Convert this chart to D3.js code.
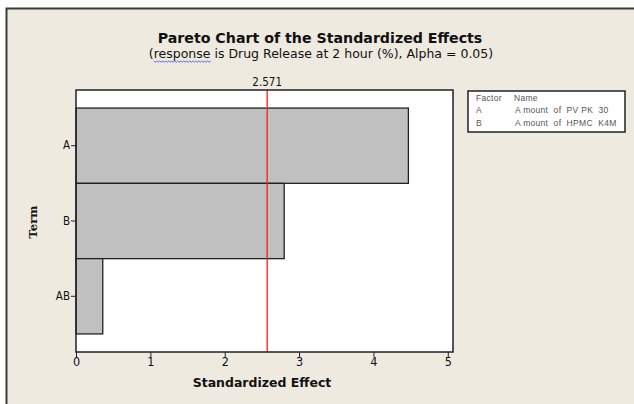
<!DOCTYPE html>
<html>
<head>
<meta charset="utf-8">
<script src="https://cdn.jsdelivr.net/npm/d3@7"></script>
<style>
  body { margin: 0; background: #fff; }
  svg { display: block; }
</style>
</head>
<body>
<div id="chart-area"></div>
<script>
// data
const terms = ['A', 'B', 'AB']
const effects = [4.47, 2.80, 0.36]
const xTicks = [0, 1, 2, 3, 4, 5]
const critical = 2.571
const factorCodes = ['A', 'B']
const factorNames = ['A mount  of  PV PK  30', 'A mount  of  HPMC  K4M']

const W = 634
const H = 404
const margin = { top: 90, left: 76, right: 181, bottom: 52 }
const width = W - margin.left - margin.right
const height = H - margin.top - margin.bottom

const svg = d3.select('#chart-area')
              .append('svg')
              .attr('width', W)
              .attr('height', H)

// beige panel with dark frame on top and left
svg.append('rect')
   .attr('x', 6).attr('y', 8)
   .attr('width', W).attr('height', H)
   .attr('fill', '#eeeae0')
svg.append('path')
   .attr('d', 'M6.5,' + H + 'V8.5H' + W)
   .attr('fill', 'none')
   .attr('stroke', '#3a3a3a')
   .attr('stroke-width', 2)

svg.append('text')
   .attr('x', 320).attr('y', 43)
   .attr('text-anchor', 'middle')
   .attr('font-family', 'DejaVu Sans')
   .attr('font-weight', 'bold')
   .attr('font-size', '14.2px')
   .attr('fill', '#111')
   .text('Pareto Chart of the Standardized Effects')

const sub = svg.append('text')
   .attr('x', 321).attr('y', 58)
   .attr('text-anchor', 'middle')
   .attr('font-family', 'DejaVu Sans')
   .attr('font-size', '12.5px')
   .attr('fill', '#111')
   .text('(response is Drug Release at 2 hour (%), Alpha = 0.05)')

// spell-check squiggle under "response"
const c0 = sub.node().getExtentOfChar(1)
const c1 = sub.node().getExtentOfChar(8)
const sq = d3.path()
const sqY = 61
sq.moveTo(c0.x, sqY)
for (let px = c0.x, k = 0; px < c1.x + c1.width; px += 1.5, k++) {
    sq.lineTo(px + 1.5, sqY + (k % 2 === 0 ? 1.2 : 0))
}
svg.append('path')
   .attr('d', sq.toString())
   .attr('fill', 'none')
   .attr('stroke', '#3050e0')
   .attr('stroke-width', 0.8)

const g = svg.append('g')
             .attr('transform', 'translate(' + margin.left + ',' + margin.top + ')')

const x = d3.scaleLinear()
            .domain([0, 5.07])
            .range([0, width])

const y = d3.scaleBand()
            .domain(terms)
            .range([0, height])
            .paddingInner(0)
            .paddingOuter(0.24)

g.append('rect')
 .attr('width', width).attr('height', height)
 .attr('fill', '#fff')

g.selectAll('.bar')
 .data(terms)
 .enter()
 .append('rect')
 .attr('class', 'bar')
 .attr('x', 0)
 .attr('y', d => y(d))
 .attr('width', (d, i) => x(effects[i]))
 .attr('height', y.bandwidth())
 .attr('fill', '#c0c0c0')
 .attr('stroke', '#222')
 .attr('stroke-width', 1.3)

g.append('line')
 .attr('x1', x(critical)).attr('x2', x(critical))
 .attr('y1', 0).attr('y2', height)
 .attr('stroke', '#ff1a1a')
 .attr('stroke-width', 1.3)

g.append('text')
 .attr('x', x(critical)).attr('y', -4)
 .attr('text-anchor', 'middle')
 .attr('font-family', 'DejaVu Sans Condensed')
 .attr('font-size', '11.5px')
 .attr('fill', '#111')
 .text(critical)

g.append('rect')
 .attr('width', width).attr('height', height)
 .attr('fill', 'none')
 .attr('stroke', '#222')
 .attr('stroke-width', 1.5)

const xAxisCall = d3.axisBottom(x)
                    .tickValues(xTicks)
                    .tickFormat(d3.format('d'))
                    .tickSize(5)
                    .tickSizeOuter(0)
g.append('g')
 .attr('class', 'x-axis')
 .attr('transform', 'translate(0,' + height + ')')
 .call(xAxisCall)
 .call(a => a.select('.domain').remove())
 .selectAll('text')
   .attr('y', 5)
   .attr('font-family', 'DejaVu Sans Condensed')
   .attr('font-size', '12.5px')
   .attr('fill', '#111')

const yAxisCall = d3.axisLeft(y)
                    .tickSize(5)
                    .tickSizeOuter(0)
g.append('g')
 .attr('class', 'y-axis')
 .call(yAxisCall)
 .call(a => a.select('.domain').remove())
 .selectAll('text')
   .attr('x', -6)
   .attr('font-family', 'DejaVu Sans Condensed')
   .attr('font-size', '11.5px')
   .attr('fill', '#111')

svg.selectAll('.tick line').attr('stroke', '#222')

svg.append('text')
   .attr('x', 262).attr('y', 387)
   .attr('text-anchor', 'middle')
   .attr('font-family', 'DejaVu Sans')
   .attr('font-weight', 'bold')
   .attr('font-size', '12.5px')
   .attr('fill', '#111')
   .text('Standardized Effect')

svg.append('text')
   .attr('transform', 'translate(37,222) rotate(-90)')
   .attr('text-anchor', 'middle')
   .attr('font-family', 'DejaVu Serif')
   .attr('font-weight', 'bold')
   .attr('font-size', '11.5px')
   .attr('fill', '#111')
   .text('Term')

// factor legend
const leg = svg.append('g').attr('transform', 'translate(468,91)')
leg.append('rect')
   .attr('width', 157).attr('height', 41)
   .attr('fill', '#fff')
   .attr('stroke', '#222')
   .attr('stroke-width', 1.5)
const legRows = [['Factor', 'Name']].concat(factorCodes.map((c, i) => [c, factorNames[i]]))
legRows.forEach((r, i) => {
    leg.append('text')
       .attr('x', 8).attr('y', 10 + i * 12.3)
       .attr('font-family', 'Liberation Sans')
       .attr('font-size', '8.5px')
       .attr('letter-spacing', '0.3px')
       .attr('fill', '#555')
       .text(r[0])
    leg.append('text')
       .attr('x', i === 0 ? 46 : 47).attr('y', 10 + i * 12.3)
       .attr('font-family', 'Liberation Sans')
       .attr('font-size', '8.5px')
       .attr('letter-spacing', '0.3px')
       .attr('fill', '#555')
       .style('white-space', 'pre')
       .text(r[1])
})
</script>
</body>
</html>
